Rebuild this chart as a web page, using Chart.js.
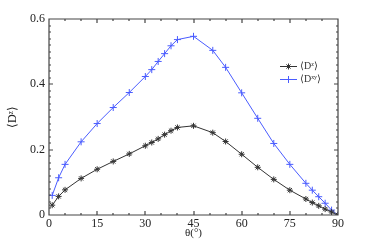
<!DOCTYPE html>
<html>
<head>
<meta charset="utf-8">
<script src="https://cdn.jsdelivr.net/npm/chart.js@4"></script>
<style>
  html, body { margin: 0; padding: 0; background: #fff; }
  #wrap { width: 374px; height: 242px; }
</style>
</head>
<body>
<div id="wrap"><canvas id="chart"></canvas></div>
<script>
const theta = [1, 3, 5, 10, 15, 20, 25, 30, 32, 34, 36, 38, 40, 45, 51, 55, 60, 65, 70, 75, 80, 82, 84, 86, 88, 90];
const dz = [0.030, 0.057, 0.077, 0.112, 0.140, 0.164, 0.187, 0.212, 0.222, 0.233, 0.246, 0.258, 0.268, 0.273, 0.252, 0.225, 0.186, 0.146, 0.109, 0.076, 0.049, 0.038, 0.028, 0.018, 0.009, 0];
const dxy = [0.060, 0.114, 0.155, 0.224, 0.280, 0.329, 0.375, 0.424, 0.445, 0.470, 0.494, 0.518, 0.537, 0.547, 0.504, 0.452, 0.374, 0.296, 0.219, 0.155, 0.097, 0.076, 0.056, 0.036, 0.015, 0];
const xTicks = [0, 15, 30, 45, 60, 75, 90];
const yTicks = [0, 0.2, 0.4, 0.6];
const seriesNames = ['⟨Dᶻ⟩', '⟨Dˣʸ⟩'];

const serif = 'Liberation Serif';

function pts(ys) {
    return theta.map((t, i) => ({ x: t, y: ys[i] }));
}

// box, inward ticks and the legend
const boxPlugin = {
    id: 'boxTicks',
    afterDraw(chart) {
        const ctx = chart.ctx;
        const xs = chart.scales.x, ys = chart.scales.y;
        const L = Math.round(xs.left), R = Math.round(xs.right);
        const T = Math.round(ys.top), B = Math.round(ys.bottom);
        ctx.save();
        ctx.strokeStyle = '#444444';
        ctx.lineWidth = 1.2;
        ctx.beginPath();
        ctx.rect(L, T, R - L, B - T);
        for (let v = 5; v < 90; v += 5) {
            const p = Math.round(xs.getPixelForValue(v));
            const len = v % 15 === 0 ? 4 : 2;
            ctx.moveTo(p, B); ctx.lineTo(p, B - len);
            ctx.moveTo(p, T); ctx.lineTo(p, T + len);
        }
        for (let k = 1; k < 30; k++) {
            const p = Math.round(ys.getPixelForValue(k * 0.02));
            const len = k % 10 === 0 ? 4 : 2;
            ctx.moveTo(L, p); ctx.lineTo(L + len, p);
            ctx.moveTo(R, p); ctx.lineTo(R - len, p);
        }
        ctx.stroke();

        // legend
        chart.data.datasets.forEach((ds, i) => {
            const y = 66.5 + i * 13;
            ctx.strokeStyle = ds.borderColor;
            ctx.fillStyle = ds.backgroundColor;
            ctx.lineWidth = 1;
            ctx.beginPath();
            ctx.moveTo(280, y); ctx.lineTo(297, y);
            ctx.stroke();
            Chart.helpers.drawPoint(ctx, {
                pointStyle: ds.pointStyle, radius: ds.pointRadius, borderWidth: 1
            }, 288.5, y);
            ctx.fillStyle = '#333';
            ctx.font = '10px "' + serif + '"';
            ctx.textBaseline = 'middle';
            ctx.fillText(seriesNames[i], 300, y);
        });
        ctx.restore();
    }
};

new Chart(document.getElementById('chart'), {
    type: 'line',
    data: {
        datasets: [
            {
                label: seriesNames[0],
                data: pts(dz),
                borderColor: '#333333',
                backgroundColor: '#999999',
                borderWidth: 1,
                pointStyle: 'star',
                pointRadius: 3,
                pointBorderWidth: 1,
                tension: 0
            },
            {
                label: seriesNames[1],
                data: pts(dxy),
                borderColor: '#4a5cff',
                backgroundColor: '#4a5cff',
                borderWidth: 1,
                pointStyle: 'cross',
                pointRadius: 3.5,
                pointBorderWidth: 1,
                tension: 0
            }
        ]
    },
    options: {
        responsive: true,
        maintainAspectRatio: false,
        animation: false,
        layout: { padding: { left: 6, right: 36, top: 19, bottom: 2 } },
        plugins: {
            legend: { display: false },
            tooltip: { enabled: false }
        },
        scales: {
            x: {
                type: 'linear',
                min: 0,
                max: 90,
                afterBuildTicks: s => { s.ticks = xTicks.map(v => ({ value: v })); },
                afterFit: s => { s.height = 25; },
                grid: { display: false, drawTicks: false, tickLength: 0 },
                border: { display: false },
                ticks: {
                    color: '#222',
                    padding: 2,
                    maxRotation: 0,
                    font: { family: serif, size: 12 }
                },
                title: {
                    display: true,
                    text: 'θ(°)',
                    color: '#222',
                    padding: 0,
                    font: { family: serif, size: 11 }
                }
            },
            y: {
                type: 'linear',
                min: 0,
                max: 0.6,
                afterBuildTicks: s => { s.ticks = yTicks.map(v => ({ value: v })); },
                afterFit: s => { s.width = 43; },
                grid: { display: false, drawTicks: false, tickLength: 0 },
                border: { display: false },
                ticks: {
                    color: '#222',
                    padding: 4,
                    font: { family: serif, size: 12 },
                    callback: v => v === 0 ? '0' : v.toFixed(1)
                },
                title: {
                    display: true,
                    text: '⟨Dᶻ⟩',
                    color: '#222',
                    padding: 0,
                    font: { family: serif, size: 12 }
                }
            }
        }
    },
    plugins: [boxPlugin]
});
</script>
</body>
</html>
